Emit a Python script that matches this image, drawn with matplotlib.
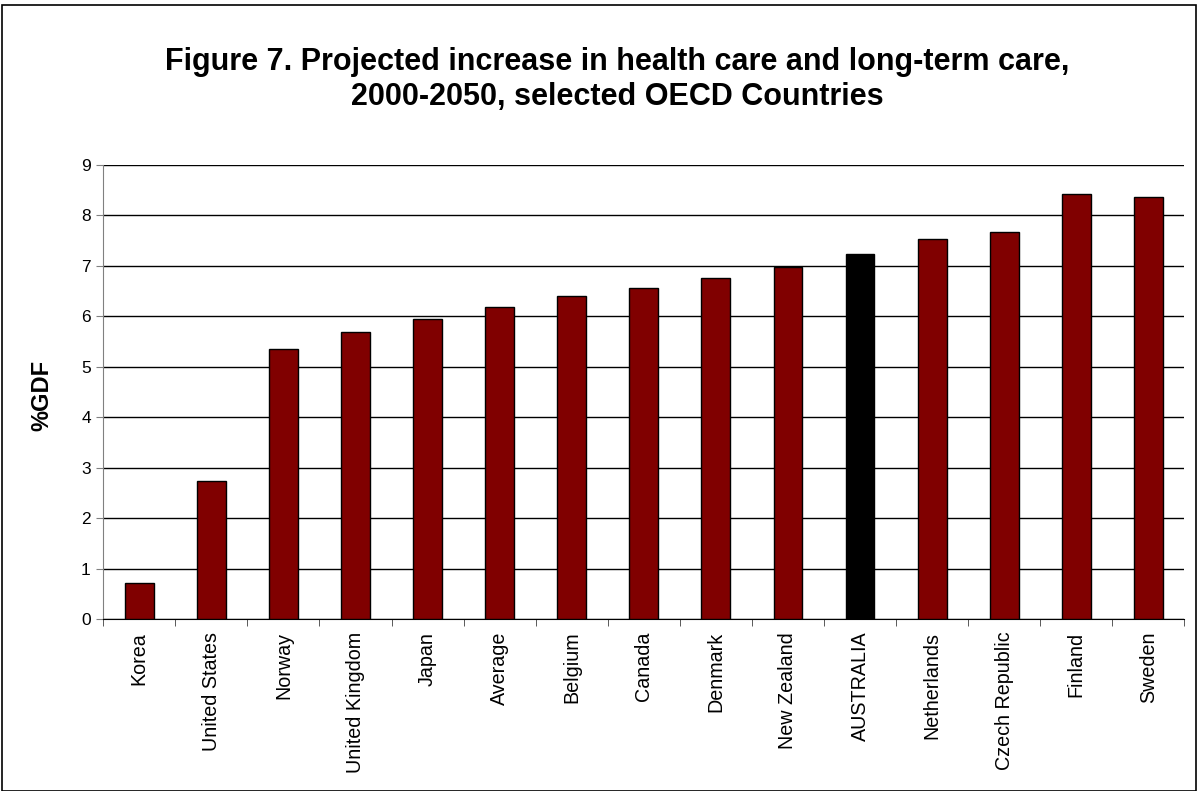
import matplotlib

matplotlib.use("Agg")
import matplotlib.pyplot as plt
import numpy as np
from matplotlib.patches import Rectangle

plt.rcParams["font.family"] = ["Liberation Sans", "DejaVu Sans"]

countries = [
    "Korea",
    "United States",
    "Norway",
    "United Kingdom",
    "Japan",
    "Average",
    "Belgium",
    "Canada",
    "Denmark",
    "New Zealand",
    "AUSTRALIA",
    "Netherlands",
    "Czech Republic",
    "Finland",
    "Sweden",
]
pct_gdp = [0.71, 2.73, 5.36, 5.70, 5.94, 6.19, 6.40, 6.56, 6.77, 6.98, 7.23, 7.53, 7.67, 8.43, 8.36]
highlight = "AUSTRALIA"

title_lines = [
    "Figure 7. Projected increase in health care and long-term care,",
    "2000-2050, selected OECD Countries",
]

fig = plt.figure(figsize=(11.98, 7.91), dpi=100)
ax = fig.add_axes([0.0862, 0.2171, 0.9024, 0.5743])

x = np.arange(len(countries))
colors = ["#000000" if c == highlight else "#800000" for c in countries]
ax.bar(x, pct_gdp, width=0.40, color=colors, edgecolor="black", linewidth=1.0, zorder=3)

ax.set_xlim(-0.5, len(countries) - 0.5)
ax.set_ylim(0, 9)
ax.set_yticks(range(0, 10))
ax.tick_params(axis="y", labelsize=12.5, length=5, color="#808080", pad=4)
ax.set_xticks(x, labels=countries, rotation=90, fontsize=14.2)
ax.tick_params(axis="x", length=0, pad=9)
ax.set_xticks(np.arange(-0.5, len(countries), 1), minor=True)
ax.tick_params(axis="x", which="minor", length=5, color="#404040")

ax.grid(axis="y", color="black", linewidth=1.0, zorder=0)
ax.spines["top"].set_visible(False)
ax.spines["right"].set_visible(False)
ax.spines["left"].set_color("#808080")
ax.spines["bottom"].set_color("black")

fig.text(42 / 1198, 0.5, "%GDF", rotation=90, ha="center", va="center",
         fontsize=17, fontweight="bold")

for i, line in enumerate(title_lines):
    fig.text(0.515, 1 - (62 + 35 * i) / 791, line, ha="center", va="center",
             fontsize=22, fontweight="bold")

fig.patches.append(
    Rectangle((0.002, 0.0), 0.996, 0.994, transform=fig.transFigure, fill=False,
              edgecolor="black", linewidth=1.2)
)

fig.savefig("out.png", dpi=100)
